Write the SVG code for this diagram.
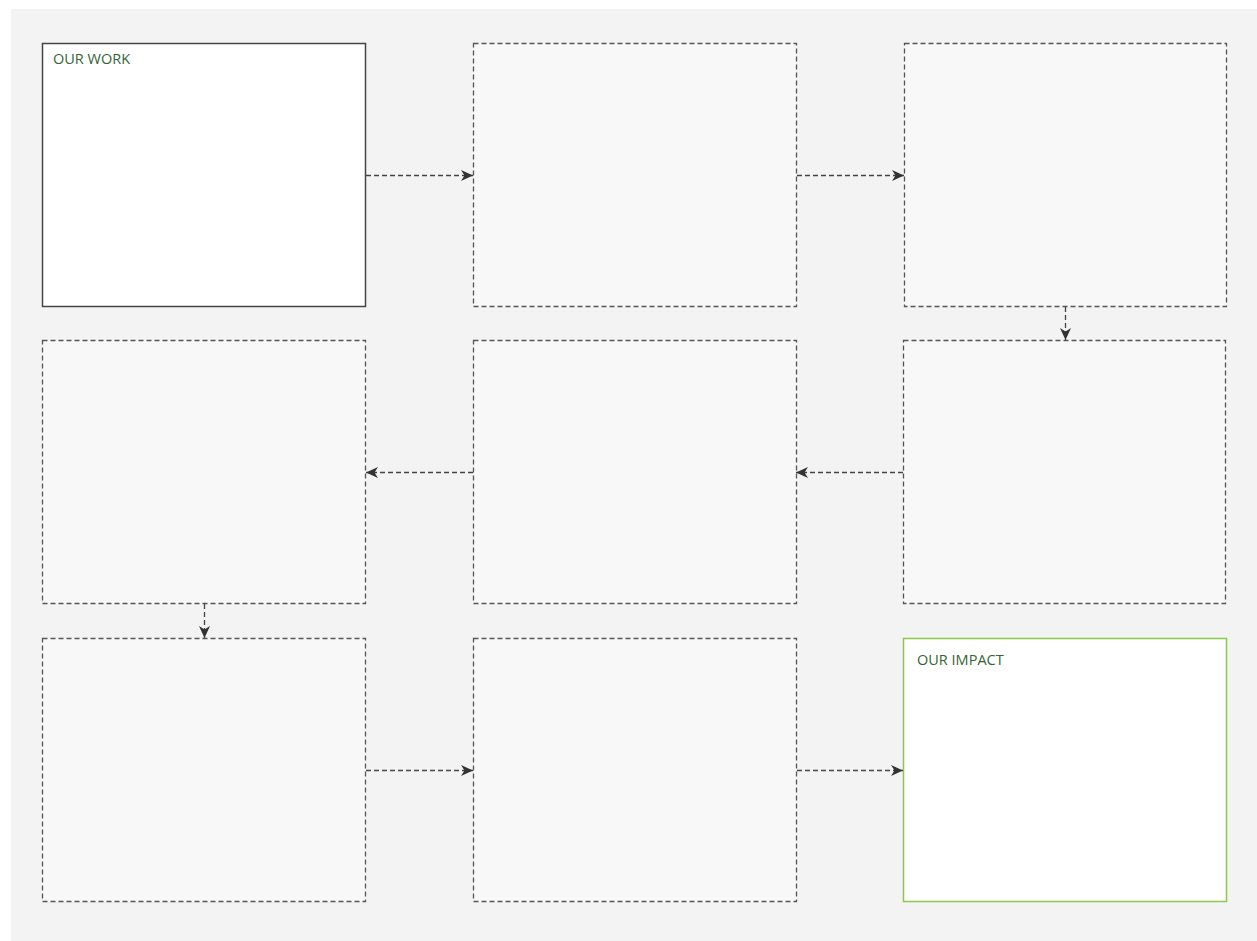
<svg xmlns="http://www.w3.org/2000/svg" width="1257" height="941" viewBox="0 0 1257 941">
<style>
.box{fill:#f7f8f7;stroke:#555;stroke-width:1.3;stroke-dasharray:5,3}
.work{fill:#fff;stroke:#444;stroke-width:1.5}
.impact{fill:#fff;stroke:#8cc84b;stroke-width:1.5}
.lbl{font-family:"Open Sans","Liberation Sans",sans-serif;font-size:14.5px;fill:#356435}
.conn{fill:none;stroke:#444;stroke-width:1.3;stroke-dasharray:5,3;marker-end:url(#ah)}
</style>
<defs>
<marker id="ah" markerWidth="13" markerHeight="13" viewBox="0 0 13 13" refX="12" refY="6.5" orient="auto" markerUnits="userSpaceOnUse">
<path d="M0,1 L12,6.5 L0,12 L3.5,6.5 Z" fill="#333"/>
</marker>
</defs>
<rect x="11" y="9" width="1246" height="932" fill="#f3f3f3"/>
<g id="n1"><rect class="work" x="42.5" y="43.5" width="323" height="263"/><text class="lbl" x="53" y="64">OUR WORK</text></g>
<g id="n2"><rect class="box" x="473.5" y="43.5" width="323" height="263"/></g>
<g id="n3"><rect class="box" x="904.5" y="43.5" width="322" height="263"/></g>
<g id="n4"><rect class="box" x="903.5" y="340.5" width="322" height="263"/></g>
<g id="n5"><rect class="box" x="473.5" y="340.5" width="323" height="263"/></g>
<g id="n6"><rect class="box" x="42.5" y="340.5" width="323" height="263"/></g>
<g id="n7"><rect class="box" x="42.5" y="638.5" width="323" height="263"/></g>
<g id="n8"><rect class="box" x="473.5" y="638.5" width="323" height="263"/></g>
<g id="n9"><rect class="impact" x="903.5" y="638.5" width="323" height="263"/><text class="lbl" x="917" y="665">OUR IMPACT</text></g>
<g id="connectors">
<path class="conn" d="M366,175.5 H473"/>
<path class="conn" d="M797,175.5 H904"/>
<path class="conn" d="M1065.5,307 V340"/>
<path class="conn" d="M903,472.5 H796"/>
<path class="conn" d="M473,472.5 H366"/>
<path class="conn" d="M204.5,604 V638"/>
<path class="conn" d="M366,770.5 H473"/>
<path class="conn" d="M797,770.5 H903"/>
</g>
</svg>
